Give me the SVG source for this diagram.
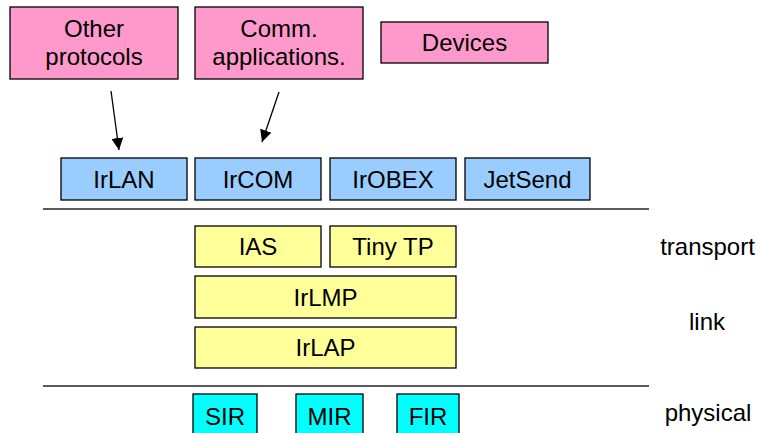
<svg xmlns="http://www.w3.org/2000/svg" width="762" height="433" viewBox="0 0 762 433">
<defs>
<style>
.box{stroke:#000;stroke-width:1.3}
.pink{fill:#FF99CC}
.blue{fill:#99CCFF}
.yellow{fill:#FFFF99}
.cyan{fill:#00FFFF}
text{font-family:"Liberation Sans",Arial,sans-serif;font-size:24px;fill:#000;text-anchor:middle}
.sep{stroke:#222;stroke-width:1.5}
.arr{stroke:#000;stroke-width:1.3;fill:none;marker-end:url(#ah)}
</style>
<marker id="ah" viewBox="0 0 12 12" refX="12" refY="6" markerWidth="12" markerHeight="12" markerUnits="userSpaceOnUse" orient="auto">
<path d="M0,0 L12,6 L0,12 z" fill="#000"/>
</marker>
</defs>
<rect width="762" height="433" fill="#fff"/>
<g id="other"><rect class="box pink" x="10" y="7" width="168" height="72"/><text x="94" y="37">Other</text><text x="94" y="65">protocols</text></g>
<g id="comm"><rect class="box pink" x="195" y="7" width="168" height="72"/><text x="279" y="37">Comm.</text><text x="279" y="65">applications.</text></g>
<g id="devices"><rect class="box pink" x="381" y="22" width="167" height="41"/><text x="464.5" y="51">Devices</text></g>
<g id="irlan"><rect class="box blue" x="61" y="158" width="126" height="42"/><text x="124" y="187.5">IrLAN</text></g>
<g id="ircom"><rect class="box blue" x="195" y="158" width="126" height="42"/><text x="258" y="187.5">IrCOM</text></g>
<g id="irobex"><rect class="box blue" x="330" y="158" width="126" height="42"/><text x="393" y="187.5">IrOBEX</text></g>
<g id="jetsend"><rect class="box blue" x="465" y="158" width="125" height="42"/><text x="527.5" y="187.5">JetSend</text></g>
<g id="ias"><rect class="box yellow" x="195" y="226" width="126" height="41"/><text x="258" y="255">IAS</text></g>
<g id="tinytp"><rect class="box yellow" x="330" y="226" width="126" height="41"/><text x="393" y="255">Tiny TP</text></g>
<g id="irlmp"><rect class="box yellow" x="195" y="276" width="261" height="42"/><text x="325.5" y="305.5">IrLMP</text></g>
<g id="irlap"><rect class="box yellow" x="195" y="327" width="261" height="41"/><text x="325.5" y="356">IrLAP</text></g>
<g id="sir"><rect class="box cyan" x="193" y="394" width="64" height="44"/><text x="225" y="425">SIR</text></g>
<g id="mir"><rect class="box cyan" x="296" y="394" width="67" height="44"/><text x="329.5" y="425">MIR</text></g>
<g id="fir"><rect class="box cyan" x="397" y="394" width="62" height="44"/><text x="428" y="425">FIR</text></g>
<g id="labels"><text x="707.5" y="255">transport</text><text x="707" y="330">link</text><text x="708" y="421">physical</text></g>
<g id="separators"><line class="sep" x1="43" y1="209" x2="649" y2="209"/><line class="sep" x1="43" y1="386" x2="649" y2="386"/></g>
<g id="connectors"><line class="arr" x1="111" y1="91" x2="119" y2="150"/><line class="arr" x1="279" y1="92" x2="262" y2="142"/></g>
</svg>
